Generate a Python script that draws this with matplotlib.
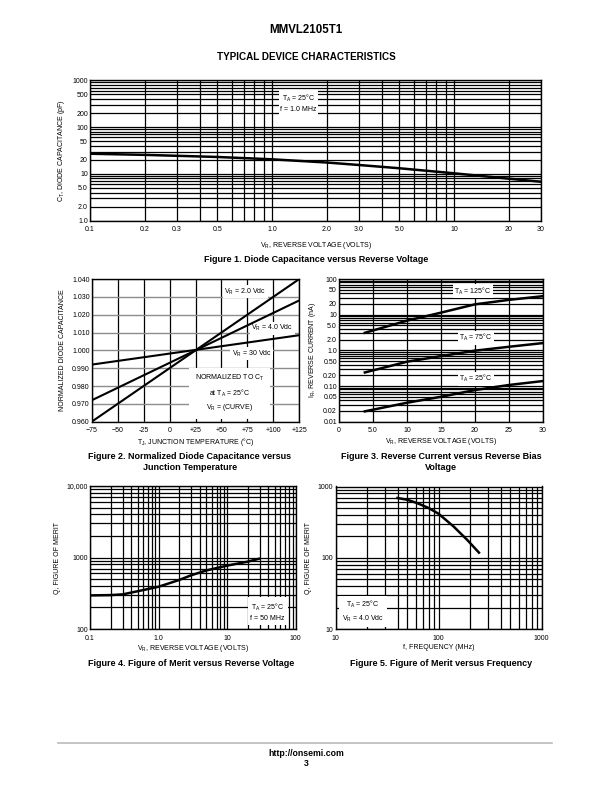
import numpy as np
import matplotlib
matplotlib.use('Agg')
import matplotlib.pyplot as plt
from matplotlib.ticker import FixedLocator, NullFormatter

plt.rcParams['font.family'] = ['Liberation Sans Narrow', 'Liberation Sans', 'DejaVu Sans']

# ---- Figure 1: capacitance vs reverse voltage
f1_vr = [0.1, 0.2, 0.5, 1.0, 2.0, 3.0, 5.0, 10, 20, 30]
f1_ct = [27, 25.5, 23, 20.5, 17.5, 15.5, 13.2, 10.3, 7.9, 6.8]
f1_xticks = [0.1, 0.2, 0.3, 0.5, 1.0, 2.0, 3.0, 5.0, 10, 20, 30]
f1_xlabels = ['0.1', '0.2', '0.3', '0.5', '1.0', '2.0', '3.0', '5.0', '10', '20', '30']
f1_yticks = [1, 2, 5, 10, 20, 50, 100, 200, 500, 1000]
f1_ylabels = ['1.0', '2.0', '5.0', '10', '20', '50', '100', '200', '500', '1000']

# ---- Figure 2: normalized capacitance vs temperature
f2_temp = [-75, 125]
f2_c_2v = [0.960, 1.040]
f2_c_4v = [0.972, 1.028]
f2_c_30v = [0.992, 1.0085]
f2_xticks = [-75, -50, -25, 0, 25, 50, 75, 100, 125]
f2_xlabels = ['\u221275', '\u221250', '-25', '0', '+25', '+50', '+75', '+100', '+125']
f2_yticks = [0.960, 0.970, 0.980, 0.990, 1.000, 1.010, 1.020, 1.030, 1.040]

# ---- Figure 3: reverse current vs reverse voltage
f3_vr = [3.8, 10, 15, 20, 25, 30]
f3_ir_125 = [3.1, 6.8, 11.4, 19.5, 26, 33]
f3_ir_75 = [0.24, 0.48, 0.69, 0.98, 1.26, 1.6]
f3_ir_25 = [0.0195, 0.034, 0.05, 0.077, 0.107, 0.138]
f3_xticks = [0, 5, 10, 15, 20, 25, 30]
f3_xlabels = ['0', '5.0', '10', '15', '20', '25', '30']
f3_yticks = [0.01, 0.02, 0.05, 0.1, 0.2, 0.5, 1, 2, 5, 10, 20, 50, 100]
f3_ylabels = ['0.01', '0.02', '0.05', '0.10', '0.20', '0.50', '1.0', '2.0', '5.0', '10', '20', '50', '100']

# ---- Figure 4: Q vs reverse voltage
f4_vr = [0.1, 0.2, 0.3, 0.5, 1.0, 2.0, 3.0, 5.0, 10, 20, 29]
f4_q = [295, 298, 305, 338, 390, 485, 565, 660, 770, 875, 960]
f4_xticks = [0.1, 1, 10, 100]
f4_xlabels = ['0.1', '1.0', '10', '100']
f4_yticks = [100, 1000, 10000]
f4_ylabels = ['100', '1000', '10,000']

# ---- Figure 5: Q vs frequency
f5_freq = [40, 50, 62, 80, 100, 140, 190, 247]
f5_q = [690, 650, 585, 500, 415, 275, 178, 118]
f5_xticks = [10, 100, 1000]
f5_yticks = [10, 100, 1000]

W, H = 612, 792
fig = plt.figure(figsize=(6.12, 7.92), dpi=100)


def box(x0, y0, x1, y1):
    # pixel box (top-left origin) -> axes rect
    return [x0 / W, 1 - y1 / H, (x1 - x0) / W, (y1 - y0) / H]


def log_minors(lo, hi):
    out = []
    d = lo
    while d < hi:
        out += [d * k for k in range(1, 10)]
        d *= 10
    out.append(hi)
    return out


def style(ax):
    ax.tick_params(which='both', length=0, labelsize=5)
    ax.tick_params(axis='x', pad=4)
    ax.tick_params(axis='y', pad=1.5)
    for s in ax.spines.values():
        s.set_linewidth(1.0)
    ax.set_axisbelow(True)


def ptext(x, y, s, size=6.5, bold=False, **kw):
    fig.text(x / W, 1 - y / H, s, fontsize=size, ha='center', va='center',
             fontweight='bold' if bold else 'normal',
             family=['Liberation Sans', 'DejaVu Sans'], **kw)


lab = dict(fontsize=5)
tbox = dict(facecolor='white', edgecolor='none', pad=1.0)

# header
ptext(306, 30, 'MMVL2105T1', size=8.3, bold=True)
ptext(306, 57, 'TYPICAL DEVICE CHARACTERISTICS', size=7.1, bold=True)

# ---------------- Figure 1
ax1 = fig.add_axes(box(90, 80.3, 541, 220.7))
ax1.set_xscale('log')
ax1.set_yscale('log')
ax1.set_xlim(0.1, 30)
ax1.set_ylim(1, 1000)
ax1.set_xticks(f1_xticks, f1_xlabels)
ax1.set_yticks(f1_yticks, f1_ylabels)
ax1.xaxis.set_minor_locator(FixedLocator(log_minors(0.1, 10) + [20, 30]))
ax1.yaxis.set_minor_locator(FixedLocator(log_minors(1, 1000)))
ax1.xaxis.set_minor_formatter(NullFormatter())
ax1.yaxis.set_minor_formatter(NullFormatter())
ax1.grid(which='both', color='black', lw=0.9)
ax1.plot(f1_vr, f1_ct, color='black', lw=1.8)
ax1.text(1.4, 330, 'T$_\\mathregular{A}$ = 25\u00b0C\nf = 1.0 MHz', fontsize=5,
         ha='center', va='center', bbox=tbox, linespacing=1.5)
ax1.set_xlabel('V$_\\mathregular{R}$, REVERSE VOLTAGE (VOLTS)', labelpad=4.5, **lab)
ax1.set_ylabel('C$_\\mathregular{T}$, DIODE CAPACITANCE (pF)', labelpad=4, **lab)
style(ax1)
ptext(316, 259, 'Figure 1. Diode Capacitance versus Reverse Voltage', bold=True)

# ---------------- Figure 2
ax2 = fig.add_axes(box(91.7, 279, 299.3, 421.7))
ax2.set_xlim(-75, 125)
ax2.set_ylim(0.960, 1.040)
ax2.set_xticks(f2_xticks, f2_xlabels)
ax2.set_yticks(f2_yticks, ['%.3f' % v for v in f2_yticks])
ax2.xaxis.grid(True, color='black', lw=0.9)
ax2.yaxis.grid(True, color='#8c8c8c', lw=1.0)
ax2.plot(f2_temp, f2_c_2v, color='black', lw=1.5, zorder=4)
ax2.plot(f2_temp, f2_c_4v, color='black', lw=1.5, zorder=4)
ax2.plot(f2_temp, f2_c_30v, color='black', lw=1.5, zorder=4)
ax2.text(73, 1.033, 'V$_\\mathregular{R}$ = 2.0 Vdc', fontsize=5, ha='center', va='center', bbox=tbox, zorder=3)
ax2.text(99, 1.0125, 'V$_\\mathregular{R}$ = 4.0 Vdc', fontsize=5, ha='center', va='center', bbox=tbox, zorder=3)
ax2.text(79, 0.998, 'V$_\\mathregular{R}$ = 30 Vdc', fontsize=5, ha='center', va='center', bbox=tbox, zorder=3)
ax2.text(58, 0.976, 'NORMALIZED TO C$_\\mathregular{T}$\nat T$_\\mathregular{A}$ = 25\u00b0C\nV$_\\mathregular{R}$ = (CURVE)',
         fontsize=5, ha='center', va='center', bbox=dict(facecolor='white', edgecolor='none', pad=4),
         linespacing=1.5, zorder=3)
ax2.set_xlabel('T$_\\mathregular{J}$, JUNCTION TEMPERATURE (\u00b0C)', labelpad=1, **lab)
ax2.set_ylabel('NORMALIZED DIODE CAPACITANCE', labelpad=4, **lab)
style(ax2)
ptext(190, 456, 'Figure 2. Normalized Diode Capacitance versus', bold=True)
ptext(190, 467, 'Junction Temperature', bold=True)

# ---------------- Figure 3
ax3 = fig.add_axes(box(339, 279, 543, 421.7))
ax3.set_yscale('log')
ax3.set_xlim(0, 30)
ax3.set_ylim(0.01, 100)
ax3.set_xticks(f3_xticks, f3_xlabels)
ax3.set_yticks(f3_yticks, f3_ylabels)
ax3.yaxis.set_minor_locator(FixedLocator(log_minors(0.01, 100)))
ax3.yaxis.set_minor_formatter(NullFormatter())
ax3.grid(which='both', color='black', lw=0.9)
ax3.plot(f3_vr, f3_ir_125, color='black', lw=1.8, zorder=4)
ax3.plot(f3_vr, f3_ir_75, color='black', lw=1.8, zorder=4)
ax3.plot(f3_vr, f3_ir_25, color='black', lw=1.8, zorder=4)
ax3.text(19.7, 46, 'T$_\\mathregular{A}$ = 125\u00b0C', fontsize=5, ha='center', va='center', bbox=tbox, zorder=3)
ax3.text(20.1, 2.27, 'T$_\\mathregular{A}$ = 75\u00b0C', fontsize=5, ha='center', va='center', bbox=tbox, zorder=3)
ax3.text(20.1, 0.16, 'T$_\\mathregular{A}$ = 25\u00b0C', fontsize=5, ha='center', va='center', bbox=tbox, zorder=3)
ax3.set_xlabel('V$_\\mathregular{R}$, REVERSE VOLTAGE (VOLTS)', labelpad=1.5, **lab)
ax3.set_ylabel('I$_\\mathregular{R}$, REVERSE CURRENT (nA)', labelpad=4, **lab)
style(ax3)
ptext(441, 456, 'Figure 3. Reverse Current versus Reverse Bias', bold=True)
ptext(441, 467, 'Voltage', bold=True)

# ---------------- Figure 4
ax4 = fig.add_axes(box(90, 486, 295.7, 629))
ax4.set_xscale('log')
ax4.set_yscale('log')
ax4.set_xlim(0.1, 100)
ax4.set_ylim(100, 10000)
ax4.set_xticks(f4_xticks, f4_xlabels)
ax4.set_yticks(f4_yticks, f4_ylabels)
ax4.xaxis.set_minor_locator(FixedLocator(log_minors(0.1, 100)))
ax4.yaxis.set_minor_locator(FixedLocator(log_minors(100, 10000)))
ax4.xaxis.set_minor_formatter(NullFormatter())
ax4.yaxis.set_minor_formatter(NullFormatter())
ax4.grid(which='both', color='black', lw=0.9)
ax4.plot(f4_vr, f4_q, color='black', lw=1.8)
ax4.text(39, 174, 'T$_\\mathregular{A}$ = 25\u00b0C\nf = 50 MHz', fontsize=5, ha='center', va='center',
         bbox=dict(facecolor='white', edgecolor='none', pad=2), linespacing=1.5)
ax4.set_xlabel('V$_\\mathregular{R}$, REVERSE VOLTAGE (VOLTS)', labelpad=1, **lab)
ax4.set_ylabel('Q, FIGURE OF MERIT', labelpad=4, **lab)
style(ax4)
ptext(191, 664, 'Figure 4. Figure of Merit versus Reverse Voltage', bold=True)

# ---------------- Figure 5
ax5 = fig.add_axes(box(335.5, 486.5, 541.5, 629))
ax5.set_xscale('log')
ax5.set_yscale('log')
ax5.set_xlim(10, 1000)
ax5.set_ylim(10, 1000)
ax5.set_xticks(f5_xticks, [str(v) for v in f5_xticks])
ax5.set_yticks(f5_yticks, [str(v) for v in f5_yticks])
ax5.xaxis.set_minor_locator(FixedLocator(log_minors(10, 1000)))
ax5.yaxis.set_minor_locator(FixedLocator(log_minors(10, 1000)))
ax5.xaxis.set_minor_formatter(NullFormatter())
ax5.yaxis.set_minor_formatter(NullFormatter())
ax5.grid(which='both', color='black', lw=0.9)
ax5.plot(f5_freq, f5_q, color='black', lw=1.8)
ax5.text(18.5, 17.5, 'T$_\\mathregular{A}$ = 25\u00b0C\nV$_\\mathregular{R}$ = 4.0 Vdc', fontsize=5,
         ha='center', va='center', bbox=dict(facecolor='white', edgecolor='none', pad=2), linespacing=1.5)
ax5.set_xlabel('f, FREQUENCY (MHz)', labelpad=1.5, **lab)
ax5.set_ylabel('Q, FIGURE OF MERIT', labelpad=4, **lab)
style(ax5)
ptext(441, 664, 'Figure 5. Figure of Merit versus Frequency', bold=True)

# footer
fig.add_artist(plt.Line2D([58 / W, 552 / W], [1 - 743 / H, 1 - 743 / H], color='#bbbbbb', lw=1.2))
ptext(306, 753, 'http://onsemi.com', size=6.3, bold=True)
ptext(306, 764, '3', size=6.3, bold=True)

fig.savefig('out.png', dpi=100)
